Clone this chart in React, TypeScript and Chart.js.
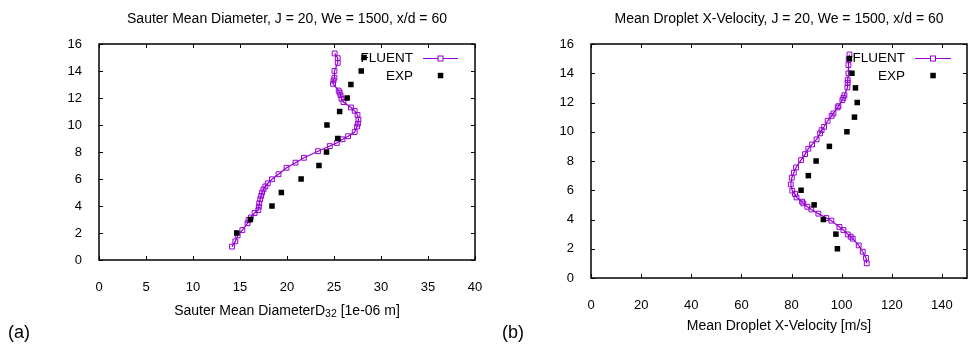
import React, { useEffect, useRef } from "react";
import { Chart, registerables } from "chart.js";

Chart.register(...registerables);

const FONT = '"Liberation Sans", Arial, Helvetica, sans-serif';
const PURPLE = "#9400d3";

// ---- Panel (a): Sauter mean diameter ----
const sauterFluentY = [15.3, 14.95, 14.6, 14.0, 13.5, 13.3, 13.05, 12.55, 12.4, 12.2, 11.95, 11.7, 11.3, 11.05, 10.75, 10.4, 10.1, 9.88, 9.48, 9.17, 8.94, 8.67, 8.44, 8.06, 7.57, 7.21, 6.83, 6.35, 5.98, 5.68, 5.45, 5.23, 5.0, 4.75, 4.5, 4.2, 3.95, 3.7, 3.48, 3.15, 2.95, 2.72, 2.22, 1.82, 1.38, 0.99];
const sauterFluentX = [25.07, 25.4, 25.4, 25.05, 25.05, 24.95, 24.9, 25.5, 25.6, 25.7, 25.8, 26.0, 26.8, 27.2, 27.5, 27.6, 27.55, 27.45, 27.2, 26.5, 25.9, 25.3, 24.55, 23.3, 21.8, 20.9, 19.95, 19.1, 18.4, 17.95, 17.7, 17.5, 17.35, 17.25, 17.15, 17.05, 17.0, 16.95, 16.55, 16.15, 15.9, 15.8, 15.25, 14.75, 14.5, 14.15];
const sauterExpY = [15, 14, 13, 12, 11, 10, 9, 8, 7, 6, 5, 4, 3, 2];
const sauterExpX = [28.2, 27.9, 26.8, 26.4, 25.6, 24.25, 25.4, 24.2, 23.4, 21.5, 19.4, 18.4, 16.1, 14.65];
const sauterXTicks = [0, 5, 10, 15, 20, 25, 30, 35, 40];

// ---- Panel (b): mean droplet x-velocity ----
const velFluentY = [15.28, 14.94, 14.56, 13.99, 13.53, 13.35, 13.03, 12.5, 12.32, 12.16, 11.75, 11.66, 11.25, 11.09, 10.75, 10.34, 10.11, 9.89, 9.48, 9.13, 8.84, 8.47, 8.06, 7.56, 7.2, 6.86, 6.4, 5.97, 5.74, 5.51, 5.22, 5.1, 4.87, 4.69, 4.4, 4.1, 3.92, 3.49, 3.28, 2.98, 2.82, 2.69, 2.23, 1.8, 1.37, 1.0];
const velFluentX = [103.1, 102.8, 102.7, 102.7, 102.4, 102.4, 102.3, 101.1, 100.7, 100.3, 98.7, 98.4, 96.7, 96.0, 94.4, 93.0, 92.0, 91.4, 90.0, 88.2, 86.7, 85.4, 83.8, 81.8, 80.9, 80.1, 79.7, 80.3, 81.4, 82.0, 84.2, 84.7, 86.3, 87.9, 90.7, 93.9, 95.9, 99.1, 100.7, 102.4, 103.6, 104.4, 106.8, 108.4, 109.7, 110.0];
const velExpY = [15, 14, 13, 12, 11, 10, 9, 8, 7, 6, 5, 4, 3, 2];
const velExpX = [103.1, 104.1, 105.5, 106.2, 105.1, 102.1, 95.1, 89.8, 86.7, 83.8, 89.0, 92.7, 97.7, 98.3];
const velXTicks = [0, 20, 40, 60, 80, 100, 120, 140];

const yTicks = [0, 2, 4, 6, 8, 10, 12, 14, 16];
const legendLabels = ["FLUENT", "EXP"];

type Panel = {
  canvasLeft: number;
  canvasWidth: number;
  title: string;
  labelMain: string;
  labelSub: string;
  labelRest: string;
  labelY: number;
  tag: string;
  xMax: number;
  xTicks: number[];
  fluentX: number[];
  fluentY: number[];
  expX: number[];
  expY: number[];
  areaLeft: number;
  areaRight: number;
  areaTop: number;
  areaBottom: number;
  legendTextRight: number;
  legendSampleL: number;
  legendSampleR: number;
};

const panels: Panel[] = [
  {
    canvasLeft: 0,
    canvasWidth: 490,
    title: "Sauter Mean Diameter, J = 20, We = 1500, x/d = 60",
    labelMain: "Sauter Mean DiameterD",
    labelSub: "32",
    labelRest: " [1e-06 m]",
    labelY: 310,
    tag: "(a)",
    xMax: 40,
    xTicks: sauterXTicks,
    fluentX: sauterFluentX,
    fluentY: sauterFluentY,
    expX: sauterExpX,
    expY: sauterExpY,
    areaLeft: 99,
    areaRight: 475,
    areaTop: 44,
    areaBottom: 260,
    legendTextRight: 413,
    legendSampleL: 423,
    legendSampleR: 458,
  },
  {
    canvasLeft: 490,
    canvasWidth: 479,
    title: "Mean Droplet X-Velocity, J = 20, We = 1500, x/d = 60",
    labelMain: "Mean Droplet X-Velocity [m/s]",
    labelSub: "",
    labelRest: "",
    labelY: 325,
    tag: "(b)",
    xMax: 150,
    xTicks: velXTicks,
    fluentX: velFluentX,
    fluentY: velFluentY,
    expX: velExpX,
    expY: velExpY,
    areaLeft: 101,
    areaRight: 477,
    areaTop: 44,
    areaBottom: 278,
    legendTextRight: 415,
    legendSampleL: 425,
    legendSampleR: 461,
  },
];

const H = 348;

function decorPlugin(p: Panel) {
  return {
    id: "decor",
    beforeDatasetsDraw(chart: any) {
      const ctx = chart.ctx as CanvasRenderingContext2D;
      ctx.save();
      ctx.font = `13.5px ${FONT}`;
      ctx.fillStyle = "#000";
      ctx.textAlign = "right";
      ctx.textBaseline = "middle";
      const rows = [58, 76];
      ctx.fillText(legendLabels[0], p.legendTextRight, rows[0]);
      ctx.fillText(legendLabels[1], p.legendTextRight, rows[1]);
      const mid = (p.legendSampleL + p.legendSampleR) / 2;
      ctx.strokeStyle = PURPLE;
      ctx.lineWidth = 1.2;
      ctx.beginPath();
      ctx.moveTo(p.legendSampleL, rows[0] + 0.5);
      ctx.lineTo(p.legendSampleR, rows[0] + 0.5);
      ctx.stroke();
      ctx.fillStyle = "#fff";
      ctx.fillRect(mid - 2.5, rows[0] - 2, 5, 5);
      ctx.lineWidth = 1;
      ctx.strokeRect(mid - 2.5, rows[0] - 2, 5, 5);
      ctx.fillStyle = "#000";
      ctx.fillRect(mid - 2.7, rows[1] - 3.2, 5.5, 5.5);
      ctx.restore();
    },
    afterDraw(chart: any) {
      const ctx = chart.ctx as CanvasRenderingContext2D;
      const { left, right, top, bottom } = chart.chartArea;
      const xs = chart.scales.x;
      const ys = chart.scales.y;
      ctx.save();
      ctx.strokeStyle = "#000";
      ctx.lineWidth = 1;
      ctx.beginPath();
      for (const v of p.xTicks) {
        const px = Math.round(xs.getPixelForValue(v)) + 0.5;
        ctx.moveTo(px, bottom);
        ctx.lineTo(px, bottom - 4);
        ctx.moveTo(px, top);
        ctx.lineTo(px, top + 4);
      }
      for (const v of yTicks) {
        const py = Math.round(ys.getPixelForValue(v)) + 0.5;
        ctx.moveTo(left, py);
        ctx.lineTo(left + 4, py);
        ctx.moveTo(right, py);
        ctx.lineTo(right - 4, py);
      }
      ctx.stroke();
      ctx.lineWidth = 1.5;
      ctx.strokeRect(left, top, right - left, bottom - top);

      const cx = (left + right) / 2;
      ctx.fillStyle = "#000";
      ctx.font = `14px ${FONT}`;
      ctx.textAlign = "center";
      ctx.textBaseline = "middle";
      ctx.fillText(p.title, cx, 19);

      const mainFont = `14px ${FONT}`;
      const subFont = `10.5px ${FONT}`;
      ctx.font = mainFont;
      const wMain = ctx.measureText(p.labelMain).width;
      const wRest = ctx.measureText(p.labelRest).width;
      ctx.font = subFont;
      const wSub = p.labelSub ? ctx.measureText(p.labelSub).width : 0;
      let x0 = cx - (wMain + wSub + wRest) / 2;
      ctx.textAlign = "left";
      ctx.textBaseline = "alphabetic";
      const base = p.labelY + 5;
      ctx.font = mainFont;
      ctx.fillText(p.labelMain, x0, base);
      x0 += wMain;
      if (p.labelSub) {
        ctx.font = subFont;
        ctx.fillText(p.labelSub, x0, base + 2);
        x0 += wSub;
      }
      if (p.labelRest) {
        ctx.font = mainFont;
        ctx.fillText(p.labelRest, x0, base);
      }

      ctx.font = `18px ${FONT}`;
      ctx.textAlign = "left";
      ctx.textBaseline = "middle";
      ctx.fillText(p.tag, p.canvasLeft === 0 ? 8 : 12, 333);
      ctx.restore();
    },
  };
}

function PanelChart({ p }: { p: Panel }) {
  const ref = useRef<HTMLCanvasElement | null>(null);
  useEffect(() => {
    if (!ref.current) return;
    const pts = (xs: number[], ys: number[]) => xs.map((x, i) => ({ x, y: ys[i] }));
    const chart = new Chart(ref.current, {
      type: "scatter",
      data: {
        datasets: [
          {
            label: legendLabels[0],
            data: pts(p.fluentX, p.fluentY),
            showLine: true,
            borderColor: PURPLE,
            borderWidth: 1.2,
            pointStyle: "rect",
            pointRadius: 3.4,
            pointBorderColor: PURPLE,
            pointBackgroundColor: "rgba(255,255,255,0)",
            pointBorderWidth: 1,
            order: 2,
          } as any,
          {
            label: legendLabels[1],
            data: pts(p.expX, p.expY),
            showLine: false,
            pointStyle: "rect",
            pointRadius: 3.9,
            pointBackgroundColor: "#000",
            pointBorderColor: "#000",
            pointBorderWidth: 0,
            order: 1,
          } as any,
        ],
      },
      options: {
        responsive: false,
        maintainAspectRatio: false,
        animation: false,
        events: [],
        layout: {
          autoPadding: false,
          padding: {
            left: 0,
            top: p.areaTop,
            right: p.canvasWidth - p.areaRight,
            bottom: 0,
          },
        },
        plugins: {
          legend: { display: false },
          title: { display: false },
          tooltip: { enabled: false },
        },
        scales: {
          x: {
            type: "linear",
            position: "bottom",
            min: 0,
            max: p.xMax,
            grid: { display: false },
            border: { display: false },
            ticks: {
              color: "#000",
              font: { family: FONT, size: 13 },
              padding: 12,
              maxRotation: 0,
              autoSkip: false,
            },
            afterBuildTicks: (s: any) => {
              s.ticks = p.xTicks.map((v) => ({ value: v }));
            },
            afterFit: (s: any) => {
              s.height = H - p.areaBottom;
              s.paddingLeft = 0;
              s.paddingRight = 0;
            },
          },
          y: {
            type: "linear",
            position: "left",
            min: 0,
            max: 16,
            grid: { display: false },
            border: { display: false },
            ticks: {
              color: "#000",
              font: { family: FONT, size: 13 },
              padding: 9,
              autoSkip: false,
            },
            afterBuildTicks: (s: any) => {
              s.ticks = yTicks.map((v) => ({ value: v }));
            },
            afterFit: (s: any) => {
              s.width = p.areaLeft;
              s.paddingTop = 0;
              s.paddingBottom = 0;
            },
          },
        },
      } as any,
      plugins: [decorPlugin(p)],
    });
    return () => chart.destroy();
  }, [p]);
  return (
    <canvas
      ref={ref}
      width={p.canvasWidth}
      height={H}
      style={{
        position: "absolute",
        left: p.canvasLeft,
        top: 0,
        width: p.canvasWidth,
        height: H,
        display: "block",
      }}
    />
  );
}

export default function App() {
  return (
    <div
      style={{
        position: "absolute",
        left: 0,
        top: 0,
        width: 969,
        height: H,
        background: "#fff",
        overflow: "hidden",
      }}
    >
      {panels.map((p) => (
        <PanelChart key={p.tag} p={p} />
      ))}
    </div>
  );
}
